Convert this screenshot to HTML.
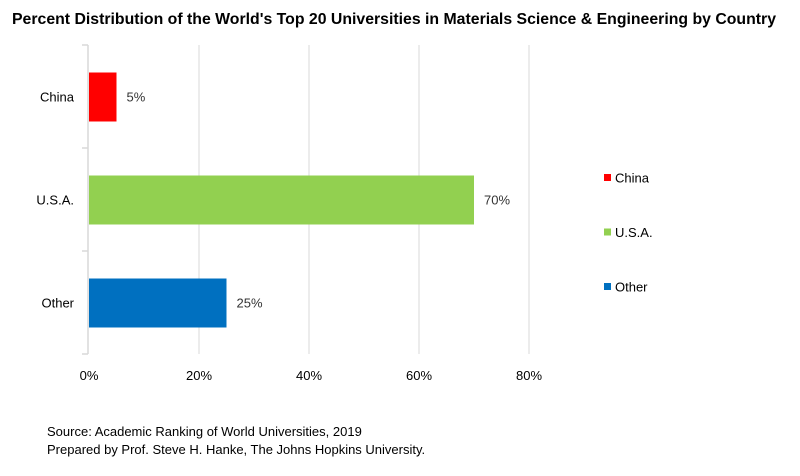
<!DOCTYPE html>
<html><head><meta charset="utf-8"><style>
body{margin:0;background:#fff;}
svg{display:block;font-family:"Liberation Sans","DejaVu Sans",sans-serif;}
</style></head><body>
<svg width="800" height="476" id="c">
<text x="394" y="24" text-anchor="middle" font-size="15.5" font-weight="bold" fill="#000" textLength="764" lengthAdjust="spacingAndGlyphs">Percent Distribution of the World's Top 20 Universities in Materials Science &amp; Engineering by Country</text>
<g id="grid"></g><g id="bars"></g><g id="legend"></g>
<text x="47" y="436" font-size="13" fill="#000">Source: Academic Ranking of World Universities, 2019</text>
<text x="47" y="454" font-size="13" fill="#000">Prepared by Prof. Steve H. Hanke, The Johns Hopkins University.</text>
</svg>
<script>
const categories=["China","U.S.A.","Other"];
const values=[5,70,25];
const colors=["#ff0000","#92d050","#0070c0"];
const ticks=[0,20,40,60,80];
const ns="http://www.w3.org/2000/svg";
const xs=v=>89+v*5.5;
const plotTop=45,band=103;
function mk(t,a,p){const e=document.createElementNS(ns,t);for(const k in a)e.setAttribute(k,a[k]);p.appendChild(e);return e;}
const g=document.getElementById('grid'),b=document.getElementById('bars'),l=document.getElementById('legend');
ticks.forEach(t=>{
 if(t>0){const ln=mk('line',{x1:xs(t),x2:xs(t),y1:plotTop,y2:plotTop+band*3,stroke:'#d9d9d9','stroke-width':1},g);
 
 }
 const tx=mk('text',{x:xs(t),y:380,'text-anchor':'middle','font-size':13,fill:'#000'},g);tx.textContent=t+'%';
 
 
});
const ax=mk('line',{x1:88,x2:88,y1:plotTop,y2:plotTop+band*3,stroke:'#d9d9d9','stroke-width':1.5},g);


for(let i=0;i<=3;i++){mk('line',{x1:82,x2:88,y1:plotTop+band*i,y2:plotTop+band*i,stroke:'#d9d9d9','stroke-width':1.5},g);}
categories.forEach((c,i)=>{
 const y0=plotTop+band*i+27.5;
 const r=mk('rect',{x:xs(0),y:y0,width:xs(values[i])-xs(0),height:49,fill:colors[i]},b);
 
 
 const lab=mk('text',{x:xs(values[i])+10,y:y0+29,'font-size':13,fill:'#333'},b);lab.textContent=values[i]+'%';
 
 
 const cl=mk('text',{x:74,y:y0+29,'text-anchor':'end','font-size':13,fill:'#000'},b);cl.textContent=c;
 
 
 const ly=178+i*54.5;
 const sq=mk('rect',{x:604,y:ly-4,width:7,height:7,fill:colors[i]},l);
 
 
 const lt=mk('text',{x:615,y:ly+4.5,'font-size':13,fill:'#000'},l);lt.textContent=c;
 
 
});
</script>
</body></html>
